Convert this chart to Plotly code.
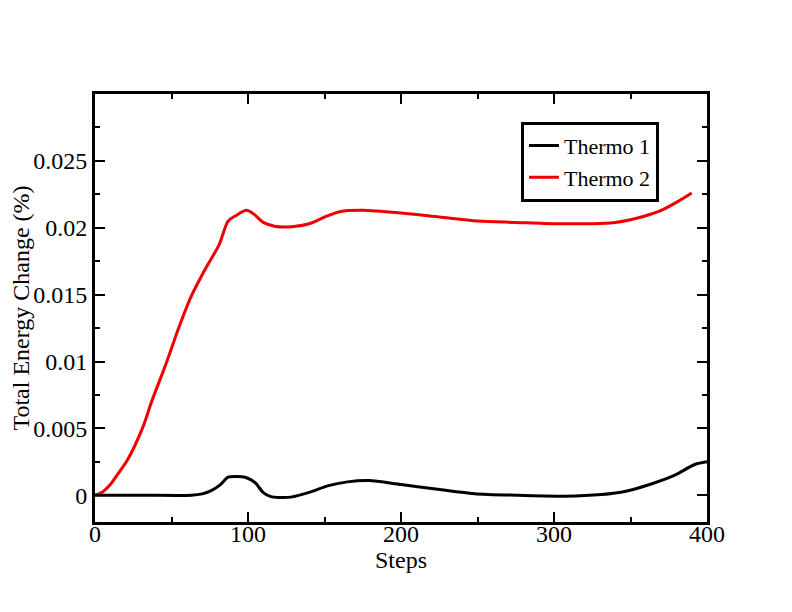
import plotly.graph_objects as go

thermo1_steps = [0, 30, 63, 70, 76, 82, 87, 93, 98, 102, 105, 110, 115, 120, 128, 141, 152, 165, 179, 200, 224, 248, 275, 307, 331, 347, 365, 379, 392, 400]
thermo1_vals = [0, 0, 0, 0.0001, 0.00035, 0.0008, 0.00135, 0.0014, 0.00135, 0.00115, 0.0009, 0.0002, -0.0001, -0.00016, -0.00014, 0.00025, 0.0007, 0.001, 0.0011, 0.0008, 0.00045, 0.00012, 0.0, -0.00007, 0.00005, 0.0003, 0.0009, 0.0015, 0.0023, 0.0025]

thermo2_steps = [0, 5, 10, 15, 21, 26, 32, 37, 46, 55, 63, 72, 81, 87, 92, 99, 104, 110, 118, 130, 140, 150, 160, 175, 200, 225, 250, 275, 300, 310, 325, 340, 350, 360, 370, 380, 390]
thermo2_vals = [0, 0.00025, 0.0008, 0.0016, 0.0026, 0.0037, 0.0053, 0.0070, 0.0097, 0.0126, 0.0149, 0.0169, 0.0187, 0.0205, 0.0209, 0.0213, 0.0210, 0.0204, 0.0201, 0.0201, 0.0203, 0.0208, 0.0212, 0.0213, 0.0211, 0.0208, 0.0205, 0.0204, 0.0203, 0.0203, 0.0203, 0.0204, 0.0206, 0.0209, 0.0213, 0.0219, 0.0226]

x_tickvals = [0, 100, 200, 300, 400]
x_ticktext = ["0", "100", "200", "300", "400"]
y_tickvals = [0, 0.005, 0.01, 0.015, 0.02, 0.025]
y_ticktext = ["0", "0.005", "0.01", "0.015", "0.02", "0.025"]

font_family = "Liberation Serif, Times New Roman, serif"

fig = go.Figure()
fig.add_trace(go.Scatter(x=thermo1_steps, y=thermo1_vals, mode="lines", name="Thermo 1",
                         line=dict(color="black", width=3, shape="spline", smoothing=0.8)))
fig.add_trace(go.Scatter(x=thermo2_steps, y=thermo2_vals, mode="lines", name="Thermo 2",
                         line=dict(color="#ee0000", width=3, shape="spline", smoothing=0.8)))

axis_common = dict(showline=True, linecolor="black", linewidth=3, mirror="allticks",
                   ticks="inside", ticklen=10, tickwidth=2, tickcolor="black",
                   showgrid=False, zeroline=False, automargin=False,
                   tickfont=dict(family=font_family, size=24, color="black"))

fig.update_xaxes(range=[0, 400], tickvals=x_tickvals, ticktext=x_ticktext,
                 ticklabelstandoff=-12,
                 title=dict(text="Steps", font=dict(family=font_family, size=24, color="black"), standoff=0),
                 minor=dict(ticks="inside", dtick=50, ticklen=5, tickwidth=2, tickcolor="black", showgrid=False),
                 **axis_common)
fig.update_yaxes(range=[-0.002, 0.03], tickvals=y_tickvals, ticktext=y_ticktext,
                 title=dict(text="Total Energy Change (%)", font=dict(family=font_family, size=24, color="black"), standoff=8),
                 minor=dict(ticks="inside", tickvals=[0.0025, 0.0075, 0.0125, 0.0175, 0.0225, 0.0275],
                            ticklen=5, tickwidth=2, tickcolor="black", showgrid=False),
                 **axis_common)

fig.update_layout(width=792, height=612, margin=dict(l=87, r=93, t=86, b=98),
                  plot_bgcolor="white", paper_bgcolor="white",
                  legend=dict(x=0.696, y=0.935, xanchor="left", yanchor="top",
                              bordercolor="black", borderwidth=3, bgcolor="white",
                              font=dict(family=font_family, size=22, color="black"),
                              tracegroupgap=0, itemwidth=30))

fig.write_html("out.html")
